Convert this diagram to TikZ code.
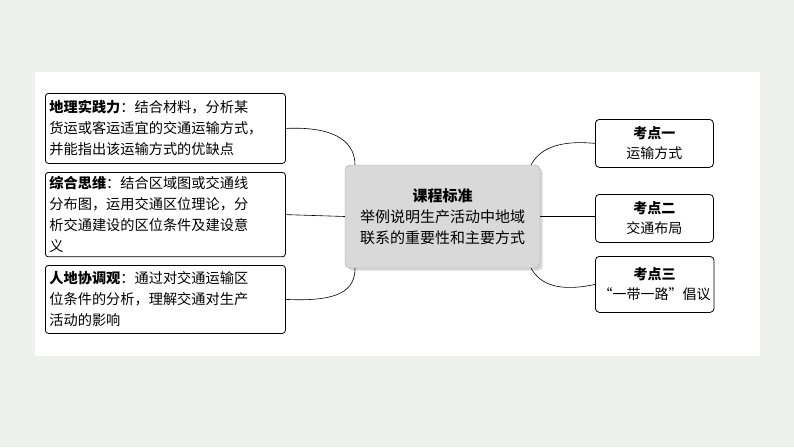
\documentclass[tikz,border=0pt]{standalone}
\usepackage{fontspec}
\setmainfont{Noto Sans CJK SC}
\usetikzlibrary{positioning, shadows}
\definecolor{pagebg}{HTML}{EEF0EC}
\definecolor{hubfill}{HTML}{D9D9D9}
\tikzset{
  leftbox/.style={draw, rounded corners=3pt, thick, fill=white, align=left, text width=232pt,
    minimum width=240pt, font=\fontsize{14.2}{21}\selectfont, anchor=north west, inner sep=4pt},
  rightbox/.style={draw, rounded corners=4pt, thick, fill=white, minimum width=118pt, align=center,
    font=\fontsize{14}{20}\selectfont, anchor=north west},
  hubbox/.style={draw=gray!70, rounded corners=5pt, fill=hubfill, minimum width=195pt, minimum height=103pt,
    align=center, font=\fontsize{15}{21}\selectfont, drop shadow={opacity=0.3}},
  link/.style={draw, semithick}
}
\begin{document}
\begin{tikzpicture}[x=1pt,y=-1pt]
  \fill[pagebg] (0,0) rectangle (794,447);
  \fill[white] (35,72) rectangle (760,356);
  \useasboundingbox (0,0) rectangle (794,447);

  \node[hubbox] (Hub) at (442.5,216.5) {\textbf{课程标准}\\举例说明生产活动中地域\\联系的重要性和主要方式};

  \node[leftbox, minimum height=70pt] (Practice) at (45,93) {\textbf{地理实践力}：结合材料，分析某\\货运或客运适宜的交通运输方式，\\并能指出该运输方式的优缺点};
  \node[leftbox, minimum height=84pt] (Thinking) at (45,172) {\textbf{综合思维}：结合区域图或交通线\\分布图，运用交通区位理论，分\\析交通建设的区位条件及建设意\\义};
  \node[leftbox, minimum height=68pt] (Harmony) at (45,265) {\textbf{人地协调观}：通过对交通运输区\\位条件的分析，理解交通对生产\\活动的影响};

  \node[rightbox, minimum height=48pt] (PointOne) at (595,119) {\textbf{考点一}\\运输方式};
  \node[rightbox, minimum height=48pt] (PointTwo) at (595,194) {\textbf{考点二}\\交通布局};
  \node[rightbox, minimum height=56pt] (PointThree) at (595,256) {\textbf{考点三}\\“一带一路”倡议};

  % left branches
  \draw[link] (Practice.east) .. controls (340,126) and (355,145) .. (355,165);
  \draw[link] (Thinking.east) -- (Hub.west);
  \draw[link] (355,268) .. controls (355,290) and (340,302) .. (Harmony.east);
  % right branches
  \draw[link] (531,165) .. controls (540,148) and (560,140) .. (PointOne.west);
  \draw[link] (Hub.east) -- (PointTwo.west |- Hub.east);
  \draw[link] (531,268) .. controls (540,285) and (560,292) .. (PointThree.west);
\end{tikzpicture}
\end{document}
